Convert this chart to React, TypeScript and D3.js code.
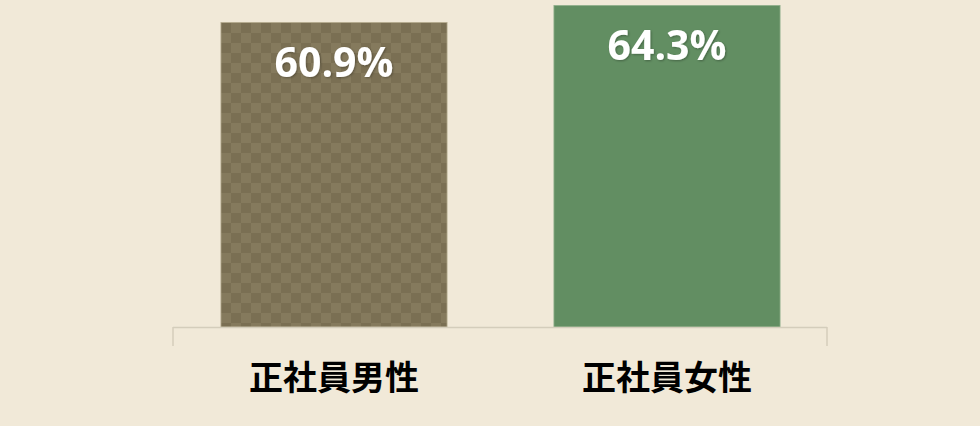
import React from 'react';
import * as d3 from 'd3';

const categories = ['正社員男性', '正社員女性'];
const values = [60.9, 64.3];
const valueLabels = ['60.9%', '64.3%'];

const W = 980;
const H = 426;
const margin = { top: 2, right: 146.5, bottom: 99, left: 167.5 };
const axisLeft = 173;
const axisRight = 827;

const App: React.FC = () => {
  const x = d3.scaleBand<string>()
    .domain(categories)
    .range([margin.left, W - margin.right])
    .paddingInner(0.321)
    .paddingOuter(0.1605);

  const y = d3.scaleLinear()
    .domain([0, 65])
    .range([H - margin.bottom, margin.top]);

  const base = y(0);

  return (
    <div style={{ position: 'fixed', left: 0, top: 0, width: W, height: H, background: '#f1e9d8' }}>
      <svg width={W} height={H} style={{ display: 'block' }}>
        <defs>
          <pattern id="checker" width={20} height={20} patternUnits="userSpaceOnUse" x={221} y={23}>
            <rect width={20} height={20} fill="#857a5d" />
            <rect width={10} height={10} fill="#7a6f53" />
            <rect x={10} y={10} width={10} height={10} fill="#7a6f53" />
          </pattern>
          <filter id="shadow" x="-10%" y="-20%" width="120%" height="140%">
            <feDropShadow dx={1} dy={1} stdDeviation={1} floodColor="#000" floodOpacity={0.3} />
          </filter>
        </defs>

        {categories.map((c, i) => (
          <rect
            key={c}
            x={x(c)}
            y={y(values[i])}
            width={x.bandwidth()}
            height={base - y(values[i])}
            fill={i === 0 ? 'url(#checker)' : '#628e62'}
            stroke={i === 0 ? '#b5ab8e' : '#8fae8a'}
            strokeWidth={0.8}
          />
        ))}

        {/* axis line */}
        <line x1={axisLeft} x2={axisRight} y1={base + 0.5} y2={base + 0.5} stroke="#d4cdbb" strokeWidth={1.5} />
        <line x1={axisLeft} x2={axisLeft} y1={base} y2={base + 19} stroke="#d4cdbb" strokeWidth={1.5} />
        <line x1={axisRight} x2={axisRight} y1={base} y2={base + 19} stroke="#d4cdbb" strokeWidth={1.5} />

        {categories.map((c, i) => (
          <text
            key={'v' + c}
            x={(x(c) || 0) + x.bandwidth() / 2}
            y={y(values[i]) + 54}
            textAnchor="middle"
            fill="#ffffff"
            filter="url(#shadow)"
            style={{ fontFamily: '"Open Sans", sans-serif', fontWeight: 700, fontSize: 41 }}
          >
            {valueLabels[i]}
          </text>
        ))}

        {categories.map(c => (
          <text
            key={'c' + c}
            x={(x(c) || 0) + x.bandwidth() / 2}
            y={base + 63}
            textAnchor="middle"
            fill="#000000"
            style={{ fontFamily: '"Noto Sans CJK JP", sans-serif', fontWeight: 700, fontSize: 34 }}
          >
            {c}
          </text>
        ))}
      </svg>
    </div>
  );
};

export default App;
